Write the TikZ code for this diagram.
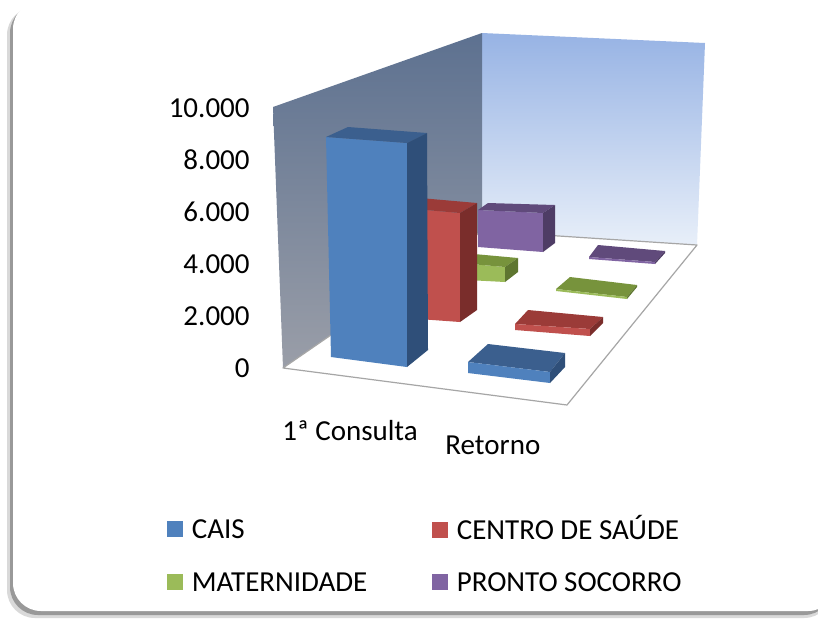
\documentclass[tikz,border=0pt]{standalone}
\usepackage{fontspec}
\setmainfont{Carlito}
\usepackage{xcolor}
\usetikzlibrary{positioning}
\definecolor{CaisBlue}{HTML}{4F81BD}
\definecolor{CaisTop}{HTML}{3B5F8E}
\definecolor{CaisSide}{HTML}{2F4F79}
\definecolor{SaudeRed}{HTML}{C0504D}
\definecolor{SaudeTop}{HTML}{9B3B38}
\definecolor{SaudeSide}{HTML}{7A2D2B}
\definecolor{MatGreen}{HTML}{9BBB59}
\definecolor{MatTop}{HTML}{77933C}
\definecolor{MatSide}{HTML}{5E7630}
\definecolor{ProntoPurple}{HTML}{8064A2}
\definecolor{ProntoTop}{HTML}{604A7B}
\definecolor{ProntoSide}{HTML}{4E3C65}
\definecolor{SideWallTop}{HTML}{5D7190}
\definecolor{SideWallBot}{HTML}{9A9EA8}
\definecolor{BackWallTop}{HTML}{97B3E4}
\definecolor{BackWallBot}{HTML}{E8EFF9}
\definecolor{FloorEdge}{HTML}{A6A6A6}
\newcommand{\chartfont}{\fontsize{14.5}{17}\selectfont}
\tikzset{
  wallleft/.style={top color=SideWallTop, bottom color=SideWallBot},
  wallback/.style={top color=BackWallTop, bottom color=BackWallBot},
  floorplane/.style={fill=white, draw=FloorEdge, line width=0.6pt, line join=round},
  ticklabel/.style={font=\chartfont, anchor=base east, inner sep=0pt},
  catlabel/.style={font=\chartfont, anchor=base west, inner sep=0pt},
  swatch/.style={minimum size=8pt, inner sep=0pt},
  legtext/.style={font=\chartfont, inner sep=0pt, text height=9.2pt, text depth=0pt},
}

\begin{document}
\begin{tikzpicture}[x=0.5pt, y=-0.5pt]
  \useasboundingbox (0,0) rectangle (818,618);

  % Card and its shadow
  \fill[black!15, rounded corners=14pt] (7,7) rectangle (832,618);
  \fill[black!40, rounded corners=14pt] (10,5) rectangle (832,615);
  \fill[white, rounded corners=14pt] (13,1) rectangle (836,611);

  % Walls and floor
  \shade[wallback] (482,33) -- (705,43) -- (697,245) -- (482,231) -- cycle;
  \shade[wallleft] (273,107) -- (482,33) -- (482,231) -- (283,368) -- cycle;
  \filldraw[floorplane] (283,368) -- (482,231) -- (697,245) -- (567,405) -- cycle;

  % Pronto Socorro
  \fill[ProntoPurple] (478,210) -- (543,213) -- (543,252) -- (478,247) -- cycle;
  \fill[ProntoTop] (478,210) -- (488,203) -- (555,205) -- (543,213) -- cycle;
  \fill[ProntoSide] (543,213) -- (555,205) -- (555,243) -- (543,252) -- cycle;
  \fill[ProntoTop] (589,257) -- (598,245) -- (665,251) -- (655,262) -- cycle;
  \fill[ProntoPurple] (589,257) -- (655,262) -- (655,264) -- (589,259) -- cycle;
  \fill[ProntoSide] (655,262) -- (665,251) -- (665,253) -- (655,264) -- cycle;

  % Maternidade
  \fill[MatGreen] (448,262) -- (505,267) -- (505,282) -- (448,279) -- cycle;
  \fill[MatTop] (448,262) -- (463,253) -- (518,258) -- (505,267) -- cycle;
  \fill[MatSide] (505,267) -- (518,258) -- (518,272) -- (505,282) -- cycle;
  \fill[MatTop] (556,289) -- (570,277) -- (637,285) -- (627,297) -- cycle;
  \fill[MatGreen] (556,289) -- (627,297) -- (627,299) -- (556,291) -- cycle;
  \fill[MatSide] (627,297) -- (637,285) -- (637,287) -- (627,299) -- cycle;

  % Centro de Saude
  \fill[SaudeRed] (403,208) -- (460,213) -- (460,322) -- (405,318) -- cycle;
  \fill[SaudeTop] (403,208) -- (420,198) -- (477,203) -- (460,213) -- cycle;
  \fill[SaudeSide] (460,213) -- (477,203) -- (477,310) -- (460,322) -- cycle;
  \fill[SaudeTop] (515,324) -- (528,310) -- (603,317) -- (590,329) -- cycle;
  \fill[SaudeRed] (515,324) -- (590,329) -- (590,336) -- (515,330) -- cycle;
  \fill[SaudeSide] (590,329) -- (603,317) -- (603,323) -- (590,336) -- cycle;

  % CAIS
  \fill[CaisBlue] (326,137) -- (407,143) -- (407,367) -- (331,357) -- cycle;
  \fill[CaisTop] (326,137) -- (348,127) -- (427,133) -- (407,143) -- cycle;
  \fill[CaisSide] (407,143) -- (427,133) -- (428,350) -- (407,367) -- cycle;
  \fill[CaisTop] (468,362) -- (488,344) -- (565,353) -- (550,372) -- cycle;
  \fill[CaisBlue] (468,362) -- (550,372) -- (550,383) -- (468,373) -- cycle;
  \fill[CaisSide] (550,372) -- (565,353) -- (565,367) -- (550,383) -- cycle;

  % Value axis
  \foreach \val [count=\i from 0] in {0,2.000,4.000,6.000,8.000,10.000}
    \node[ticklabel] (tick\i) at (250,{377-52*\i}) {\val};

  % Categories
  \node[catlabel] (catfirst) at (282,440) {1ª Consulta};
  \node[catlabel] (catreturn) at (445,454) {Retorno};

  % Legend
  \node[swatch, fill=CaisBlue] (kcais) at (175,529) {};
  \node[legtext, right=4pt of kcais] (lcais) {CAIS};
  \node[swatch, fill=MatGreen] (kmat) at (175,582) {};
  \node[legtext, right=4pt of kmat] (lmat) {MATERNIDADE};
  \node[swatch, fill=SaudeRed] (ksaude) at (440,530) {};
  \node[legtext, right=4pt of ksaude] (lsaude) {CENTRO DE SAÚDE};
  \node[swatch, fill=ProntoPurple] (kpronto) at (440,582) {};
  \node[legtext, right=4pt of kpronto] (lpronto) {PRONTO SOCORRO};
\end{tikzpicture}
\end{document}
